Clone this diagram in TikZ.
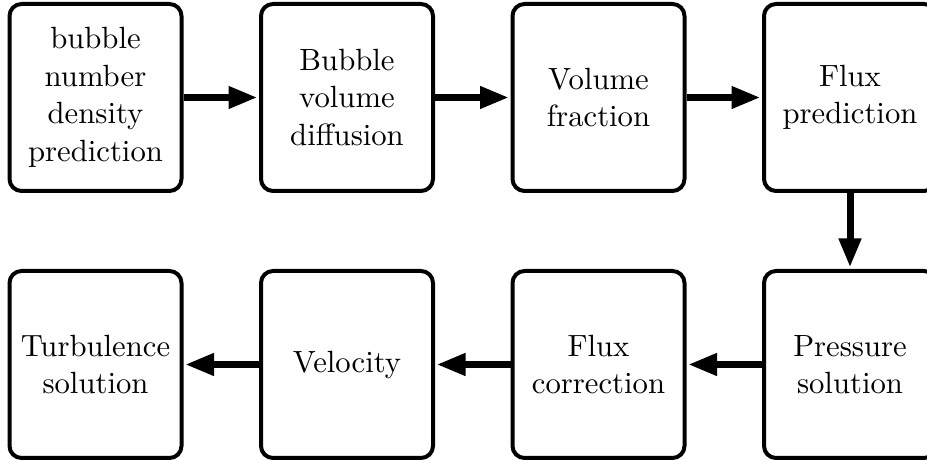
\documentclass[tikz,border=0pt]{standalone}
\usetikzlibrary{arrows.meta}
\font\bigrm="[lmroman10-regular]:mapping=tex-text" at 30.7pt
\tikzset{
  stepbox/.style={draw, line width=4pt, rounded corners=12pt, minimum width=172pt,
    minimum height=187pt, inner sep=0pt, align=center, fill=white,
    font={\bigrm\baselineskip=37.5pt}},
  flow/.style={line width=7pt, -{Triangle[length=29pt,width=21pt]}, shorten >=1.5pt}
}
\begin{document}
\begin{tikzpicture}[x=1pt,y=1pt]
\clip (0,0) rectangle (927,460);
\fill[white] (0,0) rectangle (927,460);
\node[stepbox] (b1) at (95.5,362.5) {bubble\\number\\density\\prediction};
\node[stepbox] (b2) at (347,362.5) {Bubble\\volume\\diffusion};
\node[stepbox] (b3) at (598.5,362.5) {Volume\\fraction};
\node[stepbox] (b4) at (850,362.5) {Flux\\prediction};
\node[stepbox] (b5) at (850,95.5) {Pressure\\solution};
\node[stepbox] (b6) at (598.5,95.5) {Flux\\correction};
\node[stepbox] (b7) at (347,95.5) {Velocity};
\node[stepbox] (b8) at (95.5,95.5) {Turbulence\\solution};
\draw[flow] (b1) -- (b2);
\draw[flow] (b2) -- (b3);
\draw[flow] (b3) -- (b4);
\draw[flow] (b4) -- (b5);
\draw[flow] (b5) -- (b6);
\draw[flow] (b6) -- (b7);
\draw[flow] (b7) -- (b8);
\end{tikzpicture}
\end{document}
